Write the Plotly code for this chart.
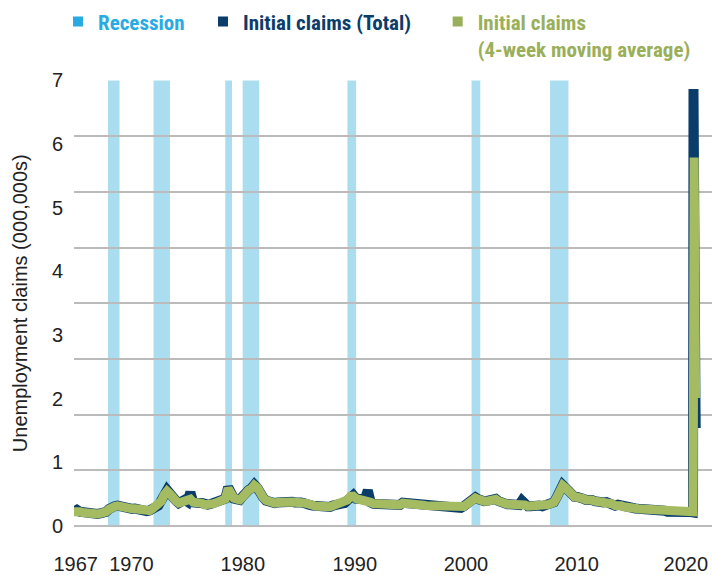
import pandas as pd
import plotly.graph_objects as go

# ---------------- data (values in thousands of claims) ----------------
total_quarterly = [
    230, 255, 225, 215,   # 1967
    205, 195, 190, 185,   # 1968
    190, 200, 205, 220,   # 1969
    265, 300, 310, 320,   # 1970
    305, 290, 300, 280,   # 1971
    270, 275, 260, 250,   # 1972
    235, 235, 245, 275,   # 1973
    310, 320, 400, 500,   # 1974
    565, 510, 430, 400,   # 1975
    360, 380, 410, 380,   # 1976
    530, 370, 385, 360,   # 1977
    360, 330, 335, 345,   # 1978
    355, 370, 405, 400,   # 1979
    430, 610, 500, 430,   # 1980
    420, 410, 465, 555,   # 1981
    565, 595, 650, 600,   # 1982
    500, 450, 400, 380,   # 1983
    360, 360, 370, 380,   # 1984
    390, 395, 380, 380,   # 1985
    370, 385, 370, 360,   # 1986
    360, 330, 320, 310,   # 1987
    310, 300, 310, 300,   # 1988
    300, 320, 340, 365,   # 1989
    350, 360, 415, 475,   # 1990
    485, 430, 420, 440,   # 1991
    420, 560, 370, 350,   # 1992
    350, 340, 330, 320,   # 1993
    345, 340, 330, 330,   # 1994
    330, 365, 360, 365,   # 1995
    360, 350, 340, 330,   # 1996
    330, 320, 320, 310,   # 1997
    310, 315, 310, 300,   # 1998
    300, 290, 290, 280,   # 1999
    280, 285, 310, 345,   # 2000
    375, 410, 450, 420,   # 2001
    385, 390, 395, 400,   # 2002
    405, 425, 390, 360,   # 2003
    350, 340, 340, 345,   # 2004
    330, 330, 400, 330,   # 2005
    310, 310, 320, 320,   # 2006
    320, 310, 320, 340,   # 2007
    355, 375, 455, 535,   # 2008
    645, 600, 545, 480,   # 2009
    460, 455, 460, 430,   # 2010
    410, 420, 410, 390,   # 2011
    370, 380, 370, 375,   # 2012
    350, 350, 320, 335,   # 2013
    320, 300, 290, 290,   # 2014
    290, 275, 270, 270,   # 2015
    265, 260, 255, 255,   # 2016
    245, 240, 250, 240,   # 2017
    225, 220, 210, 220,   # 2018
    220, 215, 215, 220,   # 2019
]
moving_avg_quarterly = [
    225, 240, 225, 213,   # 1967
    203, 193, 188, 186,   # 1968
    190, 197, 204, 222,   # 1969
    262, 295, 305, 315,   # 1970
    300, 290, 295, 280,   # 1971
    270, 270, 258, 248,   # 1972
    238, 235, 243, 272,   # 1973
    305, 320, 390, 490,   # 1974
    545, 505, 428, 398,   # 1975
    362, 378, 400, 385,   # 1976
    420, 372, 378, 360,   # 1977
    355, 333, 330, 340,   # 1978
    350, 368, 398, 400,   # 1979
    425, 590, 505, 435,   # 1980
    420, 410, 455, 540,   # 1981
    560, 585, 640, 605,   # 1982
    500, 450, 403, 380,   # 1983
    360, 360, 370, 378,   # 1984
    388, 388, 382, 378,   # 1985
    372, 378, 368, 360,   # 1986
    355, 332, 320, 312,   # 1987
    310, 302, 306, 302,   # 1988
    302, 320, 338, 358,   # 1989
    352, 362, 408, 465,   # 1990
    470, 430, 420, 435,   # 1991
    420, 410, 372, 352,   # 1992
    348, 338, 330, 322,   # 1993
    338, 338, 330, 330,   # 1994
    332, 358, 358, 360,   # 1995
    358, 350, 340, 330,   # 1996
    328, 320, 318, 310,   # 1997
    310, 312, 308, 300,   # 1998
    298, 290, 288, 280,   # 1999
    280, 282, 308, 340,   # 2000
    370, 405, 440, 420,   # 2001
    385, 388, 390, 398,   # 2002
    400, 418, 388, 360,   # 2003
    350, 340, 340, 342,   # 2004
    330, 330, 360, 330,   # 2005
    312, 312, 318, 320,   # 2006
    318, 312, 318, 338,   # 2007
    352, 372, 450, 530,   # 2008
    635, 598, 540, 478,   # 2009
    460, 452, 455, 430,   # 2010
    410, 418, 408, 390,   # 2011
    370, 378, 370, 372,   # 2012
    350, 348, 322, 332,   # 2013
    320, 302, 290, 290,   # 2014
    288, 276, 270, 268,   # 2015
    265, 260, 255, 253,   # 2016
    245, 242, 248, 240,   # 2017
    225, 220, 212, 218,   # 2018
    218, 215, 214, 218,   # 2019
]
weeks_2020 = ["2020-01-04", "2020-01-25", "2020-02-15", "2020-03-07", "2020-03-14",
              "2020-03-21", "2020-03-28", "2020-04-04", "2020-04-11", "2020-04-18",
              "2020-04-25", "2020-05-02", "2020-05-09", "2020-05-16", "2020-05-23",
              "2020-05-30", "2020-06-06"]
total_2020 = [220, 215, 212, 215, 282, 3307, 6867, 6615, 5237, 4442,
              3867, 3176, 2687, 2446, 2123, 1897, 1540]
moving_avg_2020 = [218, 214, 212, 213, 225, 1000, 2670, 4270, 5506, 5790,
                   5040, 4180, 3540, 3044, 2608, 2288, 2010]

recession_start = ["1969-12-01", "1973-11-01", "1980-01-01", "1981-07-01",
                   "1990-07-01", "2001-03-01", "2007-12-01"]
recession_end = ["1970-11-30", "1975-03-31", "1980-07-31", "1982-11-30",
                 "1991-03-31", "2001-11-30", "2009-06-30"]

tick_labels = ["1967", "1970", "1980", "1990", "2000", "2010", "2020"]
# where the reference prints its year labels
tick_dates = ["1967-02-24", "1971-12-10", "1981-07-05", "1991-02-20",
              "2000-09-05", "2010-03-15", "2019-07-30"]
y_tick_values = [0, 1, 2, 3, 4, 5, 6, 7]

# ---------------- build ----------------
quarters = pd.period_range("1967Q1", "2019Q4", freq="Q").to_timestamp(how="start")
dates = list(quarters) + list(pd.to_datetime(weeks_2020))
total = [v / 1000 for v in total_quarterly + total_2020]
mavg = [v / 1000 for v in moving_avg_quarterly + moving_avg_2020]

NAVY = "#0B3D6B"
GREEN = "#A4BB62"
GREEN_TXT = "#9AAF5A"
BAND = "#ABDDF1"
BLUE_TXT = "#29ABE2"

fig = go.Figure()
fig.add_trace(go.Scatter(x=dates, y=total, mode="lines",
                         line=dict(color=NAVY, width=10), showlegend=False,
                         name="Initial claims (Total)"))
fig.add_trace(go.Scatter(x=dates, y=mavg, mode="lines",
                         line=dict(color=GREEN, width=9), showlegend=False,
                         name="Initial claims (4-week moving average)"))

fig.add_trace(go.Scatter(x=[None], y=[None], mode="markers", legend="legend",
                         marker=dict(symbol="square", size=10, color=BLUE_TXT),
                         name=f"<span style='color:{BLUE_TXT}'>Recession</span>"))
fig.add_trace(go.Scatter(x=[None], y=[None], mode="markers", legend="legend2",
                         marker=dict(symbol="square", size=10, color=NAVY),
                         name=f"<span style='color:{NAVY}'>Initial claims (Total)</span>"))
fig.add_trace(go.Scatter(x=[None], y=[None], mode="markers", legend="legend3",
                         marker=dict(symbol="square", size=10, color=GREEN_TXT),
                         name=f"<span style='color:{GREEN_TXT}'>Initial claims<br>(4-week moving average)</span>"))

for s, e in zip(recession_start, recession_end):
    fig.add_shape(type="rect", xref="x", yref="paper", x0=s, x1=e, y0=0, y1=1,
                  fillcolor=BAND, line=dict(width=0), layer="below")

legend_common = dict(orientation="h", xref="container", yref="container",
                     y=0.9975, xanchor="left", yanchor="top",
                     valign="top", itemclick=False, bgcolor="rgba(0,0,0,0)",
                     font=dict(family="Roboto Condensed, Roboto, sans-serif", size=21,
                               weight="bold"))

fig.update_layout(
    width=712, height=575,
    margin=dict(l=74, r=0, t=78, b=48),
    paper_bgcolor="white", plot_bgcolor="white",
    font=dict(family="Liberation Sans, Arial, sans-serif", size=20, color="#222222"),
    legend=dict(legend_common, x=0.0815),
    legend2=dict(legend_common, x=0.2851),
    legend3=dict(legend_common, x=0.6147),
    xaxis=dict(type="date", range=["1967-01-01", "2021-10-30"],
               tickmode="array", tickvals=tick_dates, ticktext=tick_labels,
               showgrid=False, zeroline=False, showline=False, ticks="",
               ticklabelstandoff=24,
               tickfont=dict(size=20, color="#222222")),
    yaxis=dict(range=[0, 7], tickmode="array", tickvals=y_tick_values,
               showgrid=False, zeroline=False, showline=False, ticks="",
               ticklabelstandoff=10,
               tickfont=dict(size=20, color="#222222"),
               title=dict(text="Unemployment claims (000,000s)", standoff=18,
                          font=dict(size=20, color="#222222"))),
    # grid-only overlay axis: the reference draws 8 equal bands between 0 and 7
    yaxis2=dict(overlaying="y", side="left", range=[0, 7], tick0=0, dtick=0.875,
                showticklabels=False, showgrid=True, gridcolor="#BBBBBB", gridwidth=2,
                zeroline=True, zerolinecolor="#BBBBBB", zerolinewidth=2,
                showline=False, ticks="", layer="below traces"),
)
fig.add_trace(go.Scatter(x=[None], y=[None], yaxis="y2", showlegend=False,
                         hoverinfo="skip"))

fig.write_html("out.html", config={"displayModeBar": False},
               post_script="document.body.style.margin='0';")
